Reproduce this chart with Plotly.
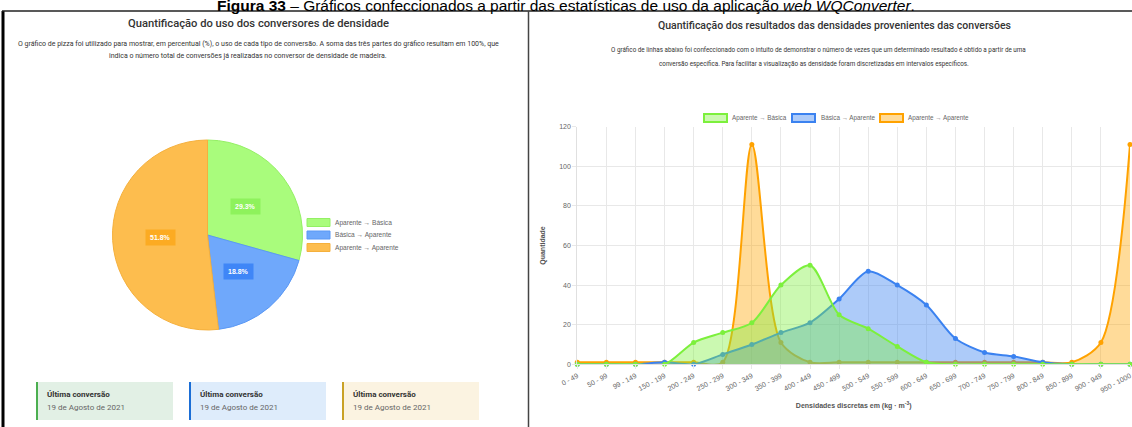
import math
import plotly.graph_objects as go

W, H = 1132, 427

def px(x):
    return x / W

def py(y):
    return 1 - y / H

# ---------------- data ----------------
pie_labels = ["Aparente → Básica", "Básica → Aparente", "Aparente → Aparente"]
pie_values = [29.3, 18.8, 51.8]
pie_colors = ["#a9fc7c", "#6fa8fb", "#fdbd4e"]
pie_edges = ["#94f064", "#5a98f5", "#f5b03c"]
pie_badges = ["#8ef25c", "#3f86f7", "#fcab22"]

categories = ["0 - 49", "50 - 99", "99 - 149", "150 - 199", "200 - 249", "250 - 299",
              "300 - 349", "350 - 399", "400 - 449", "450 - 499", "500 - 549", "550 - 599",
              "600 - 649", "650 - 699", "700 - 749", "750 - 799", "800 - 849", "850 - 899",
              "900 - 949", "950 - 1000"]
aparente_basica = [0, 0, 0, 0, 11, 16, 21, 40, 50, 25, 18, 9, 1, 0, 0, 0, 0, 0, 0, 0]
basica_aparente = [0, 0, 0, 1, 0, 5, 10, 16, 21, 33, 47, 40, 30, 13, 6, 4, 1, 0, 0, 0]
aparente_aparente = [1, 1, 1, 1, 1, 1, 111, 11, 1, 1, 1, 1, 1, 1, 1, 1, 1, 1, 11, 111]

series_names = ["Aparente → Básica", "Básica → Aparente", "Aparente → Aparente"]
series_values = [aparente_basica, basica_aparente, aparente_aparente]
line_colors = ["#7cf03c", "#3b82f0", "#ffa200"]
fill_colors = ["rgba(124,240,60,0.40)", "rgba(59,130,240,0.42)", "rgba(255,165,0,0.40)"]

card_title = "Última conversão"
card_dates = ["19 de Agosto de 2021", "19 de Agosto de 2021", "19 de Agosto de 2021"]
card_bg = ["#e2f0e5", "#deecfb", "#fbf3e1"]
card_bar = ["#4caf50", "#1b6ed6", "#c9a227"]

fig = go.Figure()

# ---------------- pie ----------------
cx, cy, R = 207.5, 235.0, 95.0
fig.add_trace(go.Pie(
    labels=pie_labels, values=pie_values, sort=False, direction="clockwise", rotation=0,
    marker=dict(colors=pie_colors, line=dict(color=pie_edges, width=1)),
    textinfo="none", hoverinfo="label+value", showlegend=False,
    domain=dict(x=[px(cx - R), px(cx + R)], y=[py(cy + R), py(cy - R)]),
))

annotations = []
shapes = []

# pie percentage badges placed at mid-angle of each slice
total = sum(pie_values)
cum = 0.0
for v, c in zip(pie_values, pie_badges):
    mid = (cum + v / 2) / total * 2 * math.pi
    cum += v
    bx = cx + 0.5 * R * math.sin(mid)
    by = cy - 0.5 * R * math.cos(mid)
    annotations.append(dict(
        x=px(bx), y=py(by), xref="paper", yref="paper", showarrow=False,
        text=f"<b>{v}%</b>", font=dict(family="Liberation Sans", size=7, color="white"),
        bgcolor=c, borderpad=4, xanchor="center", yanchor="middle"))

# pie legend
for i, (lab, c, e) in enumerate(zip(pie_labels, pie_colors, pie_edges)):
    yc = 222.5 + i * 12.5
    shapes.append(dict(type="rect", xref="paper", yref="paper",
                       x0=px(307), x1=px(330), y0=py(yc + 4), y1=py(yc - 4),
                       fillcolor=c, line=dict(color=e, width=1)))
    annotations.append(dict(x=px(333), y=py(yc), xref="paper", yref="paper", showarrow=False,
                            text=lab, xanchor="left", yanchor="middle",
                            font=dict(family="Liberation Sans", size=6.6, color="#666")))

# ---------------- line chart ----------------
for name, vals, lc, fc in reversed(list(zip(series_names, series_values, line_colors, fill_colors))):
    fig.add_trace(go.Scatter(
        x=categories, y=vals, name=name, mode="lines+markers",
        line=dict(color=lc, width=2, shape="spline", smoothing=0.8),
        marker=dict(color=lc, size=5),
        fill="tozeroy", fillcolor=fc, cliponaxis=False, showlegend=False,
        xaxis="x", yaxis="y"))

# line chart legend
leg_x = [(704, 730), (792, 819), (880, 906)]
for (bx0, tx), name, lc, fc in zip(leg_x, series_names, line_colors, fill_colors):
    shapes.append(dict(type="rect", xref="paper", yref="paper",
                       x0=px(bx0), x1=px(bx0 + 23), y0=py(122), y1=py(114),
                       fillcolor=fc, line=dict(color=lc, width=2)))
    annotations.append(dict(x=px(tx), y=py(118), xref="paper", yref="paper", showarrow=False,
                            text=name, xanchor="left", yanchor="middle",
                            font=dict(family="Liberation Sans", size=6.3, color="#666")))

# ---------------- frames ----------------
shapes += [
    dict(type="line", xref="paper", yref="paper", x0=px(3), x1=px(3), y0=py(11), y1=py(427),
         line=dict(color="#000", width=3)),
    dict(type="line", xref="paper", yref="paper", x0=px(2), x1=px(1132), y0=py(11), y1=py(11),
         line=dict(color="#222", width=1.5)),
    dict(type="line", xref="paper", yref="paper", x0=px(528.5), x1=px(528.5), y0=py(11), y1=py(427),
         line=dict(color="#444", width=1.5)),
]

# ---------------- cards ----------------
card_x = [36, 189, 342]
for x0, bg, bar, date in zip(card_x, card_bg, card_bar, card_dates):
    shapes.append(dict(type="rect", xref="paper", yref="paper", x0=px(x0), x1=px(x0 + 137),
                       y0=py(420), y1=py(382), fillcolor=bg, line=dict(width=0), layer="below"))
    shapes.append(dict(type="rect", xref="paper", yref="paper", x0=px(x0), x1=px(x0 + 2),
                       y0=py(420), y1=py(382), fillcolor=bar, line=dict(width=0)))
    annotations.append(dict(x=px(x0 + 9), y=py(394), xref="paper", yref="paper", showarrow=False,
                            text=f"<b>{card_title}</b>", xanchor="left", yanchor="middle",
                            font=dict(family="Roboto", size=8, color="#333")))
    annotations.append(dict(x=px(x0 + 9), y=py(407), xref="paper", yref="paper", showarrow=False,
                            text=date, xanchor="left", yanchor="middle",
                            font=dict(family="Roboto", size=8, color="#666")))

# ---------------- texts ----------------
texts = [
    ("Quantificação do uso dos conversores de densidade", 258, 24, 11.2, "#333", 500),
    ("O gráfico de pizza foi utilizado para mostrar, em percentual (%), o uso de cada tipo de conversão. "
     "A soma das três partes do gráfico resultam em 100%, que", 258, 44, 7.0, "#333", 400),
    ("indica o número total de conversões já realizadas no conversor de densidade de madeira.", 248, 56, 7.0, "#333", 400),
    ("Quantificação dos resultados das densidades provenientes das conversões", 834, 26, 10.5, "#333", 500),
    ("O gráfico de linhas abaixo foi confeccionado com o intuito de demonstrar o número de vezes que um "
     "determinado resultado é obtido a partir de uma", 818, 50, 6.3, "#333", 400),
    ("conversão específica. Para facilitar a visualização as densidade foram discretizadas em intervalos específicos.",
     814, 64, 6.3, "#333", 400),
]
for t, x, y, s, c, wgt in texts:
    annotations.append(dict(x=px(x), y=py(y), xref="paper", yref="paper", showarrow=False,
                            text=t, xanchor="center", yanchor="middle",
                            font=dict(family="Roboto", size=s, color=c, weight=wgt)))

# figure caption, cut at the top edge
annotations.append(dict(
    x=px(566), y=py(15.5), xref="paper", yref="paper", showarrow=False,
    text="<b>Figura 33</b> – Gráficos confeccionados a partir das estatísticas de uso da aplicação <i>web WQConverter</i>.",
    xanchor="center", yanchor="bottom", borderpad=0,
    font=dict(family="Liberation Sans", size=15.5, color="#000")))

fig.update_layout(
    width=W, height=H, autosize=False,
    margin=dict(l=0, r=0, t=0, b=0),
    paper_bgcolor="white", plot_bgcolor="white",
    showlegend=False,
    xaxis=dict(domain=[px(577.3), px(1130)], type="category", range=[0, 19],
               showgrid=True, gridcolor="#e8e8e8", gridwidth=1,
               showline=True, linecolor="#e0e0e0",
               ticks="outside", ticklen=4, tickcolor="#e8e8e8", tickangle=-28,
               tickfont=dict(family="Liberation Sans", size=7, color="#666"),
               title=dict(text="Densidades discretas em (kg · m<sup>-3</sup>)", standoff=10,
                          font=dict(family="Liberation Sans", size=7, color="#555", weight="bold")),
               automargin=False, fixedrange=True),
    yaxis=dict(domain=[py(364.3), py(126.7)], range=[0, 120], dtick=20,
               showgrid=True, gridcolor="#e8e8e8", gridwidth=1, zeroline=False,
               showline=True, linecolor="#e0e0e0",
               ticks="outside", ticklen=4, tickcolor="#e8e8e8",
               tickfont=dict(family="Liberation Sans", size=7, color="#666"),
               title=dict(text="Quantidade", standoff=12,
                          font=dict(family="Liberation Sans", size=7, color="#555", weight="bold")),
               automargin=False, fixedrange=True),
    shapes=shapes, annotations=annotations,
)

fig.write_html("out.html")
